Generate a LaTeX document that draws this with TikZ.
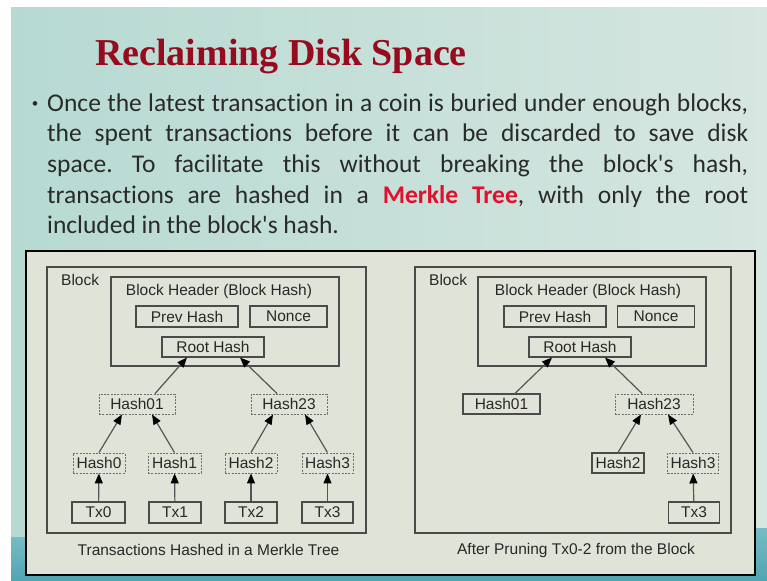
\documentclass[tikz,border=0pt]{standalone}
\usepackage{fontspec}
\setmainfont{Carlito}[Ligatures={NoCommon}]
\newfontfamily\diagfont{Liberation Sans}
\newfontfamily\titlefont{Liberation Serif}
\usetikzlibrary{arrows.meta}

\definecolor{slideA}{RGB}{182,218,210}
\definecolor{slideB}{RGB}{214,230,224}
\definecolor{bandA}{RGB}{120,188,196}
\definecolor{bandB}{RGB}{80,165,178}
\definecolor{panel}{RGB}{224,228,216}
\definecolor{titlered}{RGB}{150,12,30}
\definecolor{merklered}{RGB}{226,16,44}
\definecolor{bodytext}{RGB}{42,42,42}
\definecolor{dtext}{RGB}{40,40,40}
\definecolor{boxline}{RGB}{75,75,75}
\definecolor{dashline}{RGB}{110,110,110}
\definecolor{arrowline}{RGB}{85,85,85}

\newcommand\apos{\textquotesingle}

\tikzset{
  diag/.style={font=\diagfont\fontsize{15.5}{18}\selectfont, text=dtext},
  box/.style={diag, draw=boxline, line width=1.1pt, inner sep=0pt},
  dbox/.style={diag, draw=dashline, line width=0.9pt, dash pattern=on 2pt off 1.3pt, inner sep=0pt},
  frame/.style={draw=boxline, line width=1.1pt, inner sep=0pt},
  lbl/.style={diag, inner sep=0pt},
  link/.style={draw=arrowline, line width=1.2pt, -{Triangle[length=10pt,width=8pt,color=black]}},
  body/.style={font=\frenchspacing\fontsize{25.5}{30.5}\selectfont, text=bodytext, inner sep=0pt, anchor=base west},
}

\begin{document}
\begin{tikzpicture}[x=1pt,y=-1pt]
\useasboundingbox (0,0) rectangle (767,580);

% slide background
\fill[white] (0,0) rectangle (767,580);
\shade[left color=slideA, right color=slideB] (11,8) rectangle (767,580);
\shade[top color=bandA, bottom color=bandB] (11,537) rectangle (767,580);
\shade[top color=bandA, bottom color=bandB] (755,528) rectangle (767,580);

% title and bullet text
\node[anchor=base west, inner sep=0pt, text=titlered,
      font=\titlefont\bfseries\fontsize{38}{40}\selectfont] (title) at (95,65.5) {Reclaiming Disk Space};

\node[font=\fontsize{13}{13}\selectfont, text=bodytext, inner sep=0pt] (bullet) at (35,104.5) {•};
\node[body] (l1) at (47,111.5) {\makebox[701pt][s]{Once the latest transaction in a coin is buried under enough blocks,}};
\node[body] (l2) at (47,142) {\makebox[701pt][s]{the spent transactions before it can be discarded to save disk}};
\node[body] (l3) at (47,172.5) {\makebox[701pt][s]{space. To facilitate this without breaking the block\apos s hash,}};
\node[body] (l4) at (47,203) {\makebox[701pt][s]{transactions are hashed in a {\bfseries\color{merklered}Merkle Tree}, with only the root}};
\node[body] (l5) at (47,233.5) {included in the block\apos s hash.};

% figure panel
\draw[line width=2.5pt, fill=panel] (26,251) rectangle (755,575);

% ---------- left: full Merkle tree ----------
\node[frame, minimum width=319pt, minimum height=266pt] (blkL) at (206.5,400) {};
\node[lbl, anchor=west] (blkLabL) at (61,280) {Block};
\node[frame, minimum width=228pt, minimum height=89pt] (hdrL) at (225,321.5) {};
\node[lbl] (hdrLabL) at (219,291) {Block Header (Block Hash)};
\node[box, minimum width=102pt, minimum height=21pt] (prevL) at (187,316.5) {Prev Hash};
\node[box, minimum width=77pt, minimum height=21pt] (nonceL) at (288.5,316.5) {Nonce};
\node[box, minimum width=102pt, minimum height=20pt] (rootL) at (213,347) {Root Hash};

\node[dbox, minimum width=76pt, minimum height=20pt] (h01L) at (137,404) {Hash01};
\node[dbox, minimum width=76pt, minimum height=20pt] (h23L) at (289,404) {Hash23};

\node[dbox, minimum width=52pt, minimum height=20pt] (h0L) at (99,463) {Hash0};
\node[dbox, minimum width=53pt, minimum height=20pt] (h1L) at (174.5,463) {Hash1};
\node[dbox, minimum width=52pt, minimum height=20pt] (h2L) at (251,463) {Hash2};
\node[dbox, minimum width=51pt, minimum height=20pt] (h3L) at (327.5,463) {Hash3};

\node[box, minimum width=53pt, minimum height=21pt] (tx0L) at (98.5,512.5) {Tx0};
\node[box, minimum width=52pt, minimum height=21pt] (tx1L) at (175,512.5) {Tx1};
\node[box, minimum width=52pt, minimum height=21pt] (tx2L) at (251,512.5) {Tx2};
\node[box, minimum width=51pt, minimum height=21pt] (tx3L) at (327.5,512.5) {Tx3};

\draw[link] ([xshift=18pt]h01L.north) -- ([xshift=-26pt]rootL.south);
\draw[link] ([xshift=-12pt]h23L.north) -- ([xshift=27pt]rootL.south);
\draw[link] (h0L.north) -- ([xshift=-15pt]h01L.south);
\draw[link] (h1L.north) -- ([xshift=15pt]h01L.south);
\draw[link] (h2L.north) -- ([xshift=-16pt]h23L.south);
\draw[link] (h3L.north) -- ([xshift=16pt]h23L.south);
\draw[link] (tx0L) -- (h0L);
\draw[link] (tx1L) -- (h1L);
\draw[link] (tx2L) -- (h2L);
\draw[link] (tx3L) -- (h3L);

\node[lbl] (capL) at (208.5,550) {Transactions Hashed in a Merkle Tree};

% ---------- right: pruned tree ----------
\node[frame, minimum width=316pt, minimum height=266pt] (blkR) at (573,400) {};
\node[lbl, anchor=west] (blkLabR) at (429,280) {Block};
\node[frame, minimum width=228pt, minimum height=89pt] (hdrR) at (592,321.5) {};
\node[lbl] (hdrLabR) at (588,291) {Block Header (Block Hash)};
\node[box, minimum width=102pt, minimum height=21pt] (prevR) at (555,316.5) {Prev Hash};
\node[box, minimum width=77pt, minimum height=21pt] (nonceR) at (656,316.5) {Nonce};
\node[box, minimum width=102pt, minimum height=20pt] (rootR) at (580,347) {Root Hash};

\node[box, minimum width=77pt, minimum height=20pt] (h01R) at (501.5,404) {Hash01};
\node[dbox, minimum width=78pt, minimum height=20pt] (h23R) at (654,404) {Hash23};
\node[box, minimum width=52pt, minimum height=20pt] (h2R) at (618,463) {Hash2};
\node[dbox, minimum width=51pt, minimum height=20pt] (h3R) at (693,463) {Hash3};
\node[box, minimum width=51pt, minimum height=21pt] (tx3R) at (694,512.5) {Tx3};

\draw[link] ([xshift=13.5pt]h01R.north) -- ([xshift=-28pt]rootR.south);
\draw[link] ([xshift=-12pt]h23R.north) -- ([xshift=25pt]rootR.south);
\draw[link] (h2R.north) -- ([xshift=-13pt]h23R.south);
\draw[link] (h3R.north) -- ([xshift=14pt]h23R.south);
\draw[link] (tx3R) -- (h3R);

\node[lbl] (capR) at (576,550) {After Pruning Tx0-2 from the Block};
\end{tikzpicture}
\end{document}
